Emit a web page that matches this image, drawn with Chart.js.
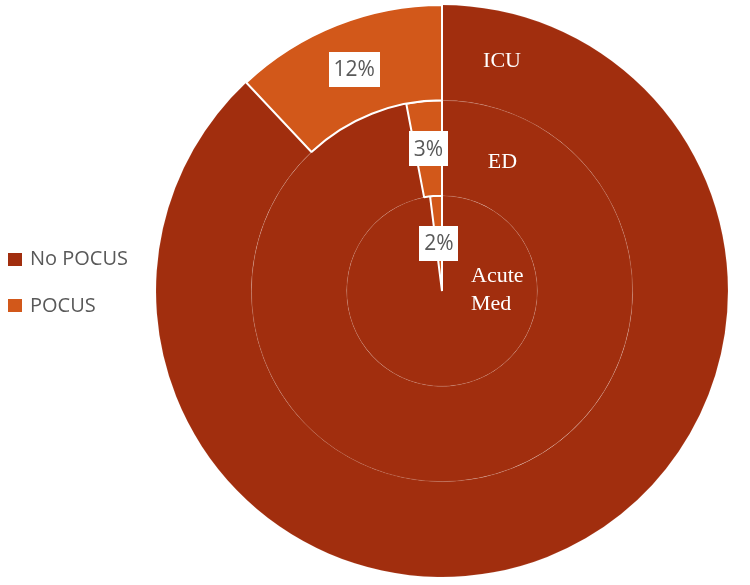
<!DOCTYPE html>
<html>
<head>
<meta charset="utf-8">
<script src="https://cdn.jsdelivr.net/npm/chart.js@4.4.1/dist/chart.umd.min.js"></script>
<style>
  html, body { margin: 0; padding: 0; background: #ffffff; }
  #wrap { position: relative; width: 750px; height: 585px; }
  #c { position: absolute; left: 0; top: 0; }
  .lg-item { position: absolute; left: 8px; height: 20px; font: 20px "Open Sans", sans-serif; line-height: 20px; color: #595959; white-space: nowrap; }
  .lg-box { position: absolute; left: 0; width: 14px; height: 13px; }
  .lg-text { position: absolute; left: 22px; top: 0; }
</style>
</head>
<body>
<div id="wrap">
  <canvas id="c" width="750" height="585"></canvas>
  <div id="legend"></div>
</div>
<script>
// ---- data ----
const rings = ['ICU', 'ED', 'Acute Med'];          // outer -> inner
const seriesNames = ['No POCUS', 'POCUS'];
const noPocus = [88, 97, 98];                       // % per ring
const pocus = [12, 3, 2];                           // % per ring
const seriesColors = ['#A12E0E', '#D2581A'];

// ---- legend (HTML) ----
const legendTops = [248, 294.5];
const legendBoxTops = [5, 4.5];
const legendEl = document.getElementById('legend');
seriesNames.forEach((name, i) => {
  const item = document.createElement('div');
  item.className = 'lg-item';
  item.style.top = legendTops[i] + 'px';
  const box = document.createElement('div');
  box.className = 'lg-box';
  box.style.top = legendBoxTops[i] + 'px';
  box.style.background = seriesColors[i];
  const txt = document.createElement('span');
  txt.className = 'lg-text';
  txt.textContent = name;
  item.appendChild(box);
  item.appendChild(txt);
  legendEl.appendChild(item);
});

// ---- datasets ----
const datasets = rings.map((ring, r) => ({
  label: ring,
  data: [noPocus[r], pocus[r]],
  backgroundColor: seriesColors,
  borderColor: ['rgba(255,255,255,0.12)', '#ffffff'],
  borderWidth: [0.8, 2],
  hoverOffset: 0,
  offset: 0
}));

// value labels (white boxes)
const valueLabelPlugin = {
  id: 'valueLabels',
  afterDatasetsDraw(chart) {
    const ctx = chart.ctx;
    ctx.save();
    ctx.font = '21px "Open Sans", sans-serif';
    ctx.textAlign = 'center';
    ctx.textBaseline = 'middle';
    chart.data.datasets.forEach((ds, di) => {
      const meta = chart.getDatasetMeta(di);
      const el = meta.data[1];
      const total = ds.data.reduce((a, b) => a + b, 0);
      const txt = Math.round(ds.data[1] / total * 100) + '%';
      const p = el.tooltipPosition();
      const w = ctx.measureText(txt).width + 10;
      const h = 35;
      ctx.fillStyle = '#ffffff';
      ctx.fillRect(Math.round(p.x - w / 2), Math.round(p.y - h / 2), Math.round(w), h);
      ctx.fillStyle = '#595959';
      ctx.fillText(txt, p.x, p.y + 1);
    });
    ctx.restore();
  }
};

// ring name labels
const ringLabelPlugin = {
  id: 'ringLabels',
  afterDatasetsDraw(chart) {
    const ctx = chart.ctx;
    const el = chart.getDatasetMeta(0).data[0];
    const cx = el.x, cy = el.y;
    ctx.save();
    ctx.font = '22px "Liberation Serif", "Times New Roman", serif';
    ctx.fillStyle = '#ffffff';
    ctx.textBaseline = 'alphabetic';
    ctx.textAlign = 'center';
    ctx.fillText(rings[0], cx + 60, cy - 224);
    ctx.fillText(rings[1], cx + 60.5, cy - 123);
    ctx.textAlign = 'left';
    const parts = rings[2].split(' ');
    ctx.fillText(parts[0], cx + 29, cy - 9);
    ctx.fillText(parts[1], cx + 29, cy + 19);
    ctx.restore();
  }
};

new Chart(document.getElementById('c'), {
  type: 'doughnut',
  data: { labels: seriesNames, datasets },
  options: {
    responsive: false,
    animation: false,
    events: [],
    cutout: 0,
    layout: { padding: { left: 155, right: 21, top: 4, bottom: 7 } },
    plugins: {
      legend: { display: false },
      tooltip: { enabled: false }
    }
  },
  plugins: [valueLabelPlugin, ringLabelPlugin]
});
</script>
</body>
</html>
